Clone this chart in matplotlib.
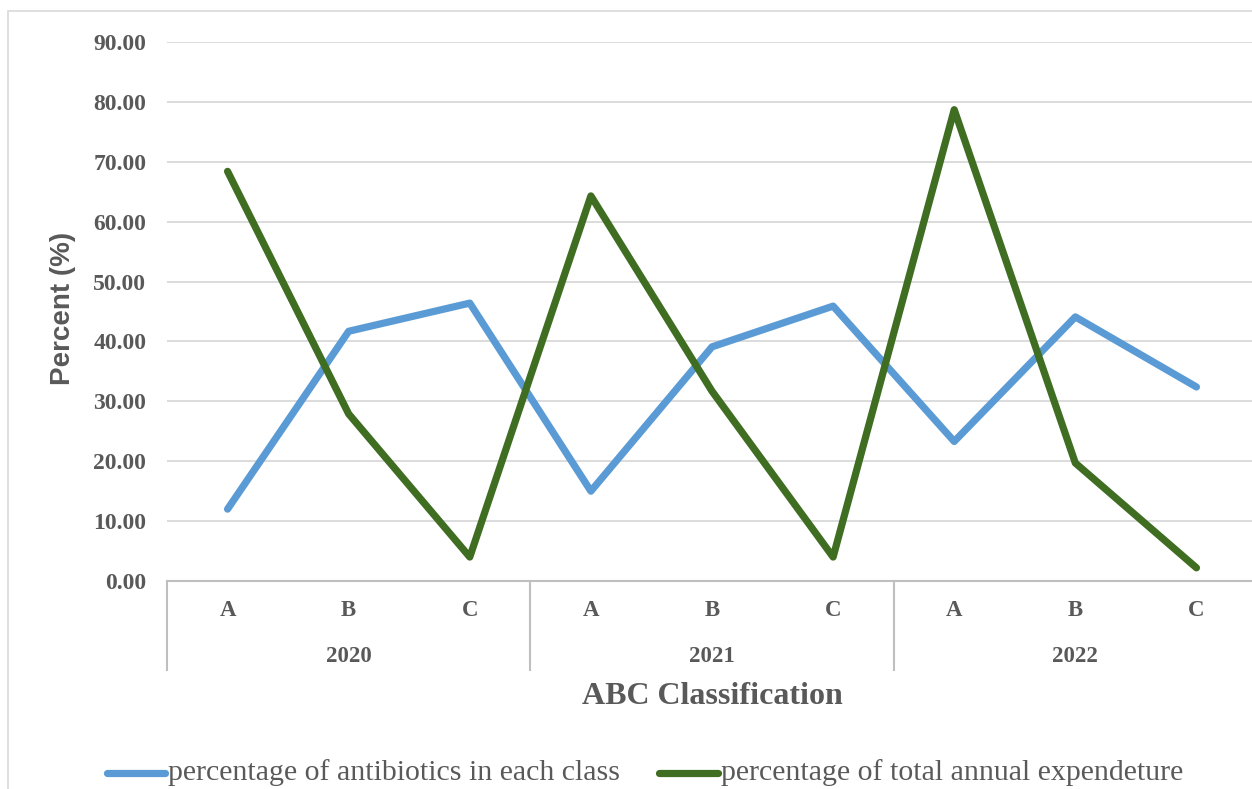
import matplotlib
matplotlib.use("Agg")
import matplotlib.pyplot as plt
from matplotlib.lines import Line2D
from matplotlib.patches import Rectangle
import matplotlib.transforms as mtransforms

years = ["2020", "2021", "2022"]
classes = ["A", "B", "C"]
antibiotics_pct = [12.0, 41.7, 46.4, 15.0, 39.1, 45.9, 23.3, 44.1, 32.4]
expenditure_pct = [68.4, 27.9, 4.0, 64.3, 31.7, 4.0, 78.7, 19.7, 2.2]
y_ticks = [0, 10, 20, 30, 40, 50, 60, 70, 80, 90]
series_names = ["percentage of antibiotics in each class",
                "percentage of total annual expendeture"]

BLUE = "#5B9BD5"
GREEN = "#3F6D22"
GRAY_TXT = "#595959"
GRID = "#D9D9D9"
AXLINE = "#BFBFBF"
SERIF = ["Liberation Serif", "DejaVu Serif"]

fig = plt.figure(figsize=(12.52, 7.89), dpi=100)
W, H = 1252, 789

# outer chart border
fig.patches.append(Rectangle((8 / W, -0.05), 1.2, (789 - 11) / H + 0.05,
                             transform=fig.transFigure, fill=False,
                             edgecolor="#D9D9D9", linewidth=1.2))

left = 167 / W
right = 1257 / W
bottom = (H - 581) / H
top = (H - 42) / H
ax = fig.add_axes([left, bottom, right - left, top - bottom])

n = len(antibiotics_pct)
x = list(range(n))
ax.plot(x, antibiotics_pct, color=BLUE, lw=5.2, solid_capstyle="round",
        solid_joinstyle="round", zorder=3)
ax.plot(x, expenditure_pct, color=GREEN, lw=5.2, solid_capstyle="round",
        solid_joinstyle="round", zorder=4)

ax.set_xlim(-0.5, n - 0.5)
ax.set_ylim(0, 90)
ax.set_yticks(y_ticks)
ax.set_yticklabels([f"{v:.2f}" for v in y_ticks], fontfamily=SERIF,
                   fontweight="bold", fontsize=17, color=GRAY_TXT)
ax.tick_params(axis="y", length=0, pad=15)
ax.set_xticks([])
ax.grid(axis="y", color=GRID, lw=1.3)
ax.set_axisbelow(True)
for s in ["top", "right", "left"]:
    ax.spines[s].set_visible(False)
ax.spines["bottom"].set_color(AXLINE)
ax.spines["bottom"].set_linewidth(1.5)

ax.text((63 - 167) / 1090, 0.506, "Percent (%)", transform=ax.transAxes,
        rotation=90, ha="center", va="center",
        fontfamily=["Liberation Sans", "DejaVu Sans"], fontweight="bold",
        fontsize=20, color=GRAY_TXT, clip_on=False)

trans = mtransforms.blended_transform_factory(ax.transData, ax.transAxes)
# category labels
for i in range(n):
    ax.text(x[i], -0.054, classes[i % 3], transform=trans, ha="center",
            va="center", fontfamily=SERIF, fontweight="bold", fontsize=16.5,
            color=GRAY_TXT, clip_on=False)
for j, yr in enumerate(years):
    ax.text(3 * j + 1, -0.141, yr, transform=trans, ha="center", va="center",
            fontfamily=SERIF, fontweight="bold", fontsize=16.5, color=GRAY_TXT,
            clip_on=False)
for b in [-0.5, 2.5, 5.5, 8.5]:
    ax.add_line(Line2D([b, b], [0, -0.166], transform=trans, color=AXLINE,
                       lw=1.5, clip_on=False))

ax.text(0.5, -0.214, "ABC Classification", transform=ax.transAxes,
        ha="center", va="center", fontfamily=SERIF, fontweight="bold",
        fontsize=23, color=GRAY_TXT, clip_on=False)

# legend
ly = (H - 773) / H
for (x0, x1, tx), col, name in zip([(107, 165, 168), (659, 718, 721)],
                                   [BLUE, GREEN], series_names):
    fig.add_artist(Line2D([x0 / W, x1 / W], [ly, ly], transform=fig.transFigure,
                          color=col, lw=5.2, solid_capstyle="round"))
    fig.text(tx / W, ly, name, ha="left", va="center", fontfamily=SERIF,
             fontsize=21.5, color=GRAY_TXT)

fig.savefig("out.png", dpi=100)
